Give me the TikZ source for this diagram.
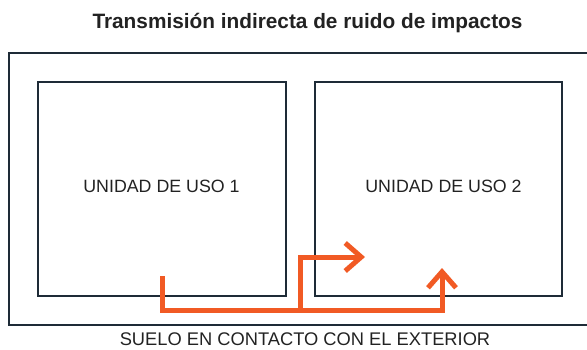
\documentclass[tikz,border=0pt]{standalone}
\usepackage{fontspec}
\setmainfont{Liberation Sans}
\usetikzlibrary{arrows.meta}
\definecolor{frame}{HTML}{1E2B37}
\definecolor{flow}{HTML}{F15A24}
\definecolor{txt}{HTML}{222222}
\tikzset{
  unitbox/.style={draw=frame, line width=1.5pt, minimum width=248pt, minimum height=214pt, inner sep=0pt, text=txt},
  labeltext/.style={font=\fontsize{17.8}{20}\selectfont, text=txt},
  flowline/.style={draw=flow, line width=5pt, line join=miter},
  flowtip/.style={-{Straight Barb[length=16pt,width=28pt,line width=5pt]}}
}
\begin{document}
\begin{tikzpicture}[x=1pt,y=-1pt]
\useasboundingbox (0,0) rectangle (587,349);
\node[font=\bfseries\fontsize{20.8}{24}\selectfont, text=txt] (title) at (307.5,23) {Transmisión indirecta de ruido de impactos};
\draw[frame, line width=2pt] (590,53) -- (8.5,53) -- (8.5,324.5) -- (590,324.5);
\node[unitbox] (u1) at (162,189) {};
\node[labeltext] at (161.5,186) {UNIDAD DE USO 1};
\node[unitbox, minimum width=247pt] (u2) at (438.5,189) {};
\node[labeltext] at (443.5,186) {UNIDAD DE USO 2};
\node[font=\fontsize{18.3}{20}\selectfont, text=txt] (suelo) at (305,339) {SUELO EN CONTACTO CON EL EXTERIOR};
\coordinate (s) at (162,276);
\coordinate (c1) at (162,310);
\coordinate (j) at (300.5,310);
\coordinate (c2) at (442,310);
\coordinate (t2) at (442,268);
\coordinate (b) at (300.5,257);
\coordinate (t1) at (365,257);
\draw[flowline, flowtip] (s) -- (c1) -- (c2) -- (t2);
\draw[flowline, flowtip] (j) -- (b) -- (t1);
\end{tikzpicture}
\end{document}
